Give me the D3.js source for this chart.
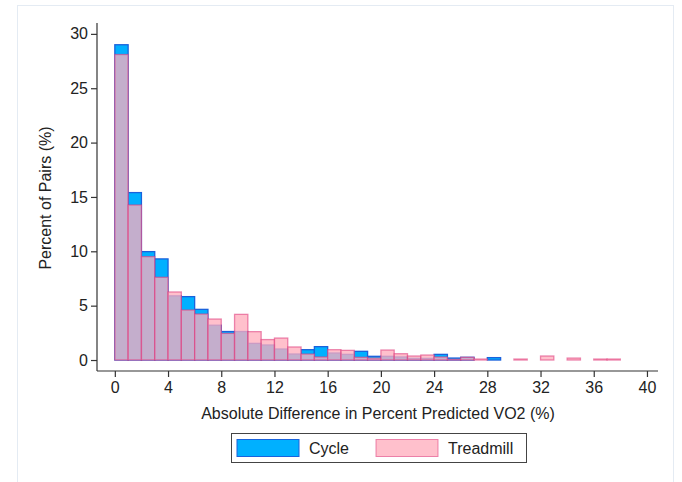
<!DOCTYPE html>
<html>
<head>
<meta charset="utf-8">
<script src="https://cdn.jsdelivr.net/npm/d3@7"></script>
<style>
  body { margin: 0; background: #fff; }
  text { font-family: "Liberation Sans", Arial, sans-serif; fill: #222; }
</style>
</head>
<body>
<div class="chart"></div>
<script>
// bin lower edges (width 1 unit)
var bins = d3.range(0, 39);
var cycle = [29.0, 15.4, 9.97, 9.3, 5.9, 5.83, 4.66, 3.2, 2.62, 2.62,
  1.53, 1.38, 1.01, 0.55, 0.95, 1.23, 0.64, 0.52, 0.80, 0.34,
  0.34, 0.28, 0.15, 0.15, 0.52, 0.18, 0.25, 0, 0.22, 0,
  0, 0, 0, 0, 0, 0, 0, 0, 0];
var treadmill = [28.1, 14.26, 9.51, 7.61, 6.26, 4.6, 4.23, 3.77, 2.45, 4.2,
  2.61, 1.88, 2.02, 1.2, 0.55, 0.28, 0.95, 0.89, 0.25, 0.18,
  0.92, 0.58, 0.37, 0.46, 0.28, 0.06, 0.25, 0.09, 0, 0,
  0.09, 0, 0.37, 0, 0.18, 0, 0.09, 0.09, 0];
var xTicks = [0, 4, 8, 12, 16, 20, 24, 28, 32, 36, 40];
var yTicks = [0, 5, 10, 15, 20, 25, 30];
var seriesNames = ["Cycle", "Treadmill"];

(function() {
  var width = 682, height = 482;
  var svg = d3.select(".chart").append("svg")
    .attr("width", width)
    .attr("height", height);

  // outer frame
  svg.append("rect")
    .attr("x", 17.5).attr("y", 5.5)
    .attr("width", 656).attr("height", 500)
    .attr("fill", "none")
    .attr("stroke", "#e4ebf3");

  var x = d3.scaleLinear().domain([-1.34, 40.83]).range([97, 658]);
  var y = d3.scaleLinear().domain([-1.01, 31.0]).range([371, 23]);

  var g = svg.append("g");

  // cycle bars
  g.selectAll("rect.cycle")
    .data(bins.filter(function(b) { return cycle[b] > 0; })).enter()
    .append("rect")
      .attr("class", "cycle")
      .attr("x", function(b) { return x(b); })
      .attr("width", function(b) { return x(b + 1) - x(b); })
      .attr("y", function(b) { return y(cycle[b]); })
      .attr("height", function(b) { return y(0) - y(cycle[b]); })
      .attr("fill", "#00b0ff")
      .attr("stroke", "#1a62dc")
      .attr("stroke-width", 1.3);

  // treadmill bars, translucent on top
  g.selectAll("rect.tread")
    .data(bins.filter(function(b) { return treadmill[b] > 0; })).enter()
    .append("rect")
      .attr("class", "tread")
      .attr("x", function(b) { return x(b); })
      .attr("width", function(b) { return x(b + 1) - x(b); })
      .attr("y", function(b) { return y(treadmill[b]); })
      .attr("height", function(b) { return y(0) - y(treadmill[b]); })
      .attr("fill", "rgb(255,173,188)")
      .attr("fill-opacity", 0.77)
      .attr("stroke", "#e0407f")
      .attr("stroke-opacity", 0.6)
      .attr("stroke-width", 1.3);

  // axes
  var yAxis = d3.axisLeft(y).tickValues(yTicks).tickSize(6).tickPadding(3);
  var xAxis = d3.axisBottom(x).tickValues(xTicks).tickSize(6).tickPadding(5);

  var ya = svg.append("g").attr("transform", "translate(97,0)").call(yAxis);
  var xa = svg.append("g").attr("transform", "translate(0,371)").call(xAxis);
  [ya, xa].forEach(function(a) {
    a.select(".domain").attr("stroke", "#333").attr("stroke-width", 1.2);
    a.selectAll(".tick line").attr("stroke", "#333").attr("stroke-width", 1.2);
    a.selectAll(".tick text")
      .attr("font-family", "Liberation Sans, Arial, sans-serif")
      .attr("font-size", 16)
      .attr("fill", "#222");
  });
  ya.select(".domain").attr("d", "M0,23V371");
  xa.select(".domain").attr("d", "M97,0H658");

  svg.append("text")
    .attr("transform", "translate(51,198) rotate(-90)")
    .attr("text-anchor", "middle")
    .attr("font-size", 16)
    .text("Percent of Pairs (%)");

  svg.append("text")
    .attr("x", 378).attr("y", 419)
    .attr("text-anchor", "middle")
    .attr("font-size", 16)
    .text("Absolute Difference in Percent Predicted VO2 (%)");

  // legend
  var lg = svg.append("g");
  lg.append("rect")
    .attr("x", 231.5).attr("y", 433.5)
    .attr("width", 295).attr("height", 29)
    .attr("fill", "#fff")
    .attr("stroke", "#444");
  var swatches = [
    {name: seriesNames[0], x: 237, fill: "#00b0ff", fo: 1, stroke: "#1a62dc", so: 1},
    {name: seriesNames[1], x: 376, fill: "rgb(255,173,188)", fo: 0.77, stroke: "#e0407f", so: 0.6}
  ];
  lg.selectAll("rect.sw")
    .data(swatches).enter()
    .append("rect")
      .attr("class", "sw")
      .attr("x", function(d) { return d.x; })
      .attr("y", 439.5)
      .attr("width", 62).attr("height", 17)
      .attr("fill", function(d) { return d.fill; })
      .attr("fill-opacity", function(d) { return d.fo; })
      .attr("stroke", function(d) { return d.stroke; })
      .attr("stroke-opacity", function(d) { return d.so; });
  lg.selectAll("text")
    .data(swatches).enter()
    .append("text")
      .attr("x", function(d) { return d.x + 72; })
      .attr("y", 454)
      .attr("font-size", 16)
      .text(function(d) { return d.name; });
})();
</script>
</body>
</html>
